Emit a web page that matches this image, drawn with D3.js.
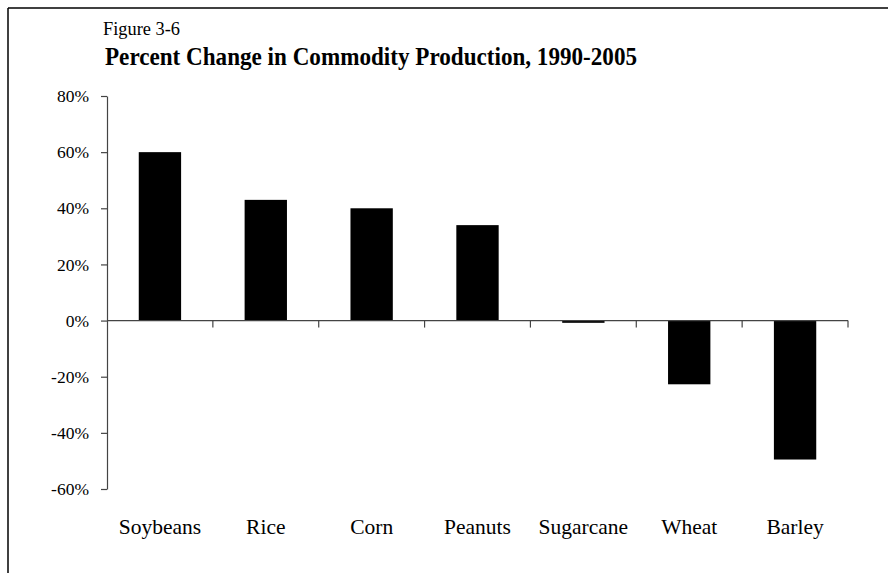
<!DOCTYPE html>
<html lang="en">
<head>
  <meta charset="UTF-8">
  <title>Percent Change in Commodity Production</title>
  <script src="https://d3js.org/d3.v7.min.js"></script>
  <style>
    body {
      margin: 0;
      background: #fff;
      overflow: hidden;
    }
    svg text {
      font-family: "Liberation Serif", "Times New Roman", serif;
      fill: #000;
    }
    .axis path, .axis line {
      stroke: #444;
      stroke-width: 1.2;
    }
  </style>
</head>
<body>
  <div id="chart"></div>
  <script>
    // data
    const commodities = ["Soybeans", "Rice", "Corn", "Peanuts", "Sugarcane", "Wheat", "Barley"];
    const pctChange = [60, 43, 40, 34, -0.8, -22.7, -49.5];
    const yTicks = [-60, -40, -20, 0, 20, 40, 60, 80];

    const width = 888, height = 573;
    const margin = { left: 107, right: 40, top: 96, bottom: 84 };

    const svg = d3.select("#chart").append("svg")
      .attr("width", width)
      .attr("height", height);

    // frame (top and left edges only are visible)
    svg.append("line")
      .attr("x1", 8).attr("y1", 8).attr("x2", width).attr("y2", 8)
      .attr("stroke", "#000").attr("stroke-width", 1.5);
    svg.append("line")
      .attr("x1", 8).attr("y1", 8).attr("x2", 8).attr("y2", height)
      .attr("stroke", "#000").attr("stroke-width", 1.5);

    svg.append("text")
      .attr("x", 103).attr("y", 35)
      .style("font-size", "18px")
      .attr("textLength", 77)
      .attr("lengthAdjust", "spacingAndGlyphs")
      .text("Figure 3-6");

    svg.append("text")
      .attr("x", 105).attr("y", 65)
      .style("font-size", "26px")
      .style("font-weight", "bold")
      .attr("textLength", 532)
      .attr("lengthAdjust", "spacingAndGlyphs")
      .text("Percent Change in Commodity Production, 1990-2005");

    const x = d3.scaleBand()
      .domain(commodities)
      .range([margin.left, 848])
      .paddingInner(0.6)
      .paddingOuter(0.3);

    const y = d3.scaleLinear()
      .domain([-60, 80])
      .range([489, 96]);

    // bars
    svg.selectAll(".bar")
      .data(commodities)
      .join("rect")
      .attr("class", "bar")
      .attr("x", d => x(d))
      .attr("width", x.bandwidth())
      .attr("y", (d, i) => y(Math.max(0, pctChange[i])))
      .attr("height", (d, i) => Math.abs(y(pctChange[i]) - y(0)))
      .attr("fill", "#000");

    // y axis
    const yAxis = svg.append("g")
      .attr("class", "axis")
      .attr("transform", `translate(${margin.left},0)`)
      .call(d3.axisLeft(y)
        .tickValues(yTicks)
        .tickSize(6)
        .tickSizeOuter(0)
        .tickPadding(12)
        .tickFormat(d => d + "%"));
    yAxis.selectAll("text").style("font-size", "17.5px");

    // x axis at zero with ticks between categories
    const step = x.step();
    const start = x.range()[0];
    const boundaries = d3.range(commodities.length + 1).map(i => start + i * step);
    const xAxis = svg.append("g").attr("class", "axis");
    xAxis.append("line")
      .attr("x1", start).attr("x2", x.range()[1])
      .attr("y1", y(0)).attr("y2", y(0));
    xAxis.selectAll(".xtick")
      .data(boundaries.slice(1))
      .join("line")
      .attr("class", "xtick")
      .attr("x1", d => d).attr("x2", d => d)
      .attr("y1", y(0)).attr("y2", y(0) + 7);

    // category labels along the bottom
    svg.selectAll(".cat")
      .data(commodities)
      .join("text")
      .attr("class", "cat")
      .attr("x", d => x(d) + x.bandwidth() / 2)
      .attr("y", 534)
      .attr("text-anchor", "middle")
      .style("font-size", "21.5px")
      .text(d => d);
  </script>
</body>
</html>
